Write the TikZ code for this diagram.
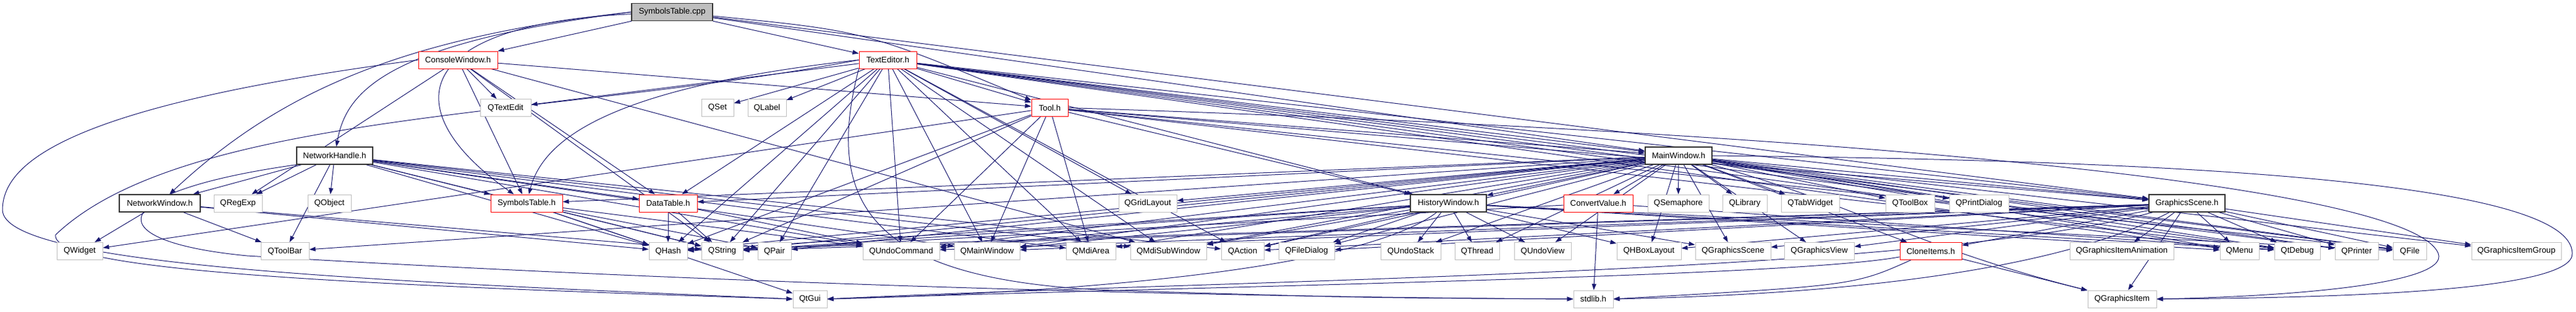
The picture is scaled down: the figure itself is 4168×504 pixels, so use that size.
\documentclass[tikz,border=0pt]{standalone}
\usepackage{fontspec}
\setmainfont{Liberation Sans}
\usetikzlibrary{arrows.meta}
\pgfdeclarelayer{bg}
\pgfsetlayers{bg,main}
\definecolor{edgeblue}{HTML}{191970}
\definecolor{qgray}{HTML}{BFBFBF}
\newcommand{\mknode}[6]{\node[#1,minimum width=#2pt] (#3) at (#4,#5) {#6};}
\begin{document}
\begin{tikzpicture}[x=1pt,y=-1pt,
 box/.style={draw, fill=white, minimum height=28pt, inner sep=0pt, font=\fontsize{13.3}{16}\selectfont, line width=1pt},
 qbox/.style={box, draw=qgray},
 rbox/.style={box, draw=red},
 bbox/.style={box, draw=black!80, line width=1.3pt},
 rootbox/.style={box, draw=black!80, fill=qgray, line width=1.3pt},
 e/.style={draw=edgeblue, line width=1pt, -{Triangle[length=10pt,width=7pt]}}]
\useasboundingbox (0,0) rectangle (4168,504);
% row 0
\mknode{rootbox}{131}{S}{1087.5}{19.5}{SymbolsTable.cpp}
% row 1
\mknode{rbox}{128}{CW}{741}{97}{ConsoleWindow.h}
\mknode{rbox}{93}{TE}{1436.5}{97}{TextEditor.h}
% row 2
\mknode{qbox}{82}{QTextEdit}{818}{174.5}{QTextEdit}
\mknode{qbox}{52}{QSet}{1161}{174.5}{QSet}
\mknode{qbox}{62}{QLabel}{1241}{174.5}{QLabel}
\mknode{rbox}{59}{Tool}{1698.5}{174.5}{Tool.h}
% row 3
\mknode{bbox}{123}{NH}{541.5}{252}{NetworkHandle.h}
\mknode{bbox}{108}{MW}{2716}{252}{MainWindow.h}
% row 4
\mknode{bbox}{131}{NW}{258.5}{329}{NetworkWindow.h}
\mknode{qbox}{78}{QRegExp}{385}{329}{QRegExp}
\mknode{qbox}{70}{QObject}{533}{329}{QObject}
\mknode{rbox}{116}{STh}{852}{329}{SymbolsTable.h}
\mknode{rbox}{94}{DT}{1081}{329}{DataTable.h}
\mknode{qbox}{94}{QGridLayout}{1857}{329}{QGridLayout}
\mknode{bbox}{123}{HW}{2343.5}{329}{HistoryWindow.h}
\mknode{rbox}{112}{CV}{2586}{329}{ConvertValue.h}
\mknode{qbox}{99}{QSemaphore}{2715.5}{329}{QSemaphore}
\mknode{qbox}{72}{QLibrary}{2823}{329}{QLibrary}
\mknode{qbox}{94}{QTabWidget}{2929}{329}{QTabWidget}
\mknode{qbox}{79}{QToolBox}{3090.5}{329}{QToolBox}
\mknode{qbox}{96}{QPrintDialog}{3202}{329}{QPrintDialog}
\mknode{bbox}{123}{GS}{3538.5}{329}{GraphicsScene.h}
% row 5
\mknode{qbox}{74}{QWidget}{129}{406.5}{QWidget}
\mknode{qbox}{78}{QToolBar}{461}{406.5}{QToolBar}
\mknode{qbox}{62}{QHash}{1081}{406.5}{QHash}
\mknode{qbox}{67}{QString}{1168.5}{406.5}{QString}
\mknode{qbox}{54}{QPair}{1253}{406.5}{QPair}
\mknode{qbox}{124}{QUndoCommand}{1458}{406.5}{QUndoCommand}
\mknode{qbox}{106}{QMainWindow}{1597}{406.5}{QMainWindow}
\mknode{qbox}{80}{QMdiArea}{1765}{406.5}{QMdiArea}
\mknode{qbox}{123}{QMdiSubWindow}{1890.5}{406.5}{QMdiSubWindow}
\mknode{qbox}{69}{QAction}{2010.5}{406.5}{QAction}
\mknode{qbox}{90}{QFileDialog}{2114}{406.5}{QFileDialog}
\mknode{qbox}{97}{QUndoStack}{2282.5}{406.5}{QUndoStack}
\mknode{qbox}{72}{QThread}{2390}{406.5}{QThread}
\mknode{qbox}{92}{QUndoView}{2496}{406.5}{QUndoView}
\mknode{qbox}{104}{QHBoxLayout}{2668}{406.5}{QHBoxLayout}
\mknode{qbox}{122}{QGraphicsScene}{2804}{406.5}{QGraphicsScene}
\mknode{qbox}{113}{QGraphicsView}{2943.5}{406.5}{QGraphicsView}
\mknode{rbox}{100}{CloneItems}{3124}{406.5}{CloneItems.h}
\mknode{qbox}{168}{QGraphicsItemAnimation}{3433}{406.5}{QGraphicsItemAnimation}
\mknode{qbox}{63}{QMenu}{3623.5}{406.5}{QMenu}
\mknode{qbox}{74}{QtDebug}{3717}{406.5}{QtDebug}
\mknode{qbox}{70}{QPrinter}{3813}{406.5}{QPrinter}
\mknode{qbox}{54}{QFile}{3899}{406.5}{QFile}
\mknode{qbox}{145}{QGraphicsItemGroup}{4071.5}{406.5}{QGraphicsItemGroup}
% row 6
\mknode{qbox}{55}{QtGui}{1310.5}{484}{QtGui}
\mknode{qbox}{64}{stdlib}{2578}{484}{stdlib.h}
\mknode{qbox}{111}{QGraphicsItem}{3433.5}{484}{QGraphicsItem}

\begin{pgfonlayer}{bg}
\fill[white] (0,0) rectangle (4168,504);
\foreach \a/\b in {S/CW, S/TE, S/MW, S/GS,
 CW/QTextEdit, CW/Tool, CW/DT, CW/STh, CW/QRegExp, CW/QString, CW/QMdiSubWindow,
 TE/QTextEdit, TE/QSet, TE/QLabel, TE/Tool, TE/QGridLayout, TE/DT, TE/QHash, TE/QString, TE/QPair,
 TE/QUndoCommand, TE/QMainWindow, TE/QMdiArea, TE/QMdiSubWindow, TE/QAction, TE/HW, TE/MW, TE/GS,
 TE/QtDebug, TE/QFile, TE/QMenu, TE/QPrinter,
 Tool/QWidget, Tool/QHash, Tool/QUndoCommand, Tool/QMdiArea, Tool/MW, Tool/GS, Tool/QtDebug,
 Tool/QFile, Tool/HW, Tool/QMainWindow, Tool/QString,
 NH/NW, NH/QRegExp, NH/QObject, NH/QToolBar, NH/STh, NH/DT, NH/QHash, NH/QString, NH/QUndoCommand,
 NH/QMainWindow, NH/QMdiArea, NH/QMdiSubWindow, NH/QAction,
 NW/QWidget, NW/QToolBar, NW/QHash, NW/QString,
 STh/QHash, STh/QString, STh/QPair, STh/QtGui, STh/QUndoCommand,
 DT/QHash, DT/QString, DT/QUndoCommand,
 MW/HW, MW/CV, MW/QSemaphore, MW/QLibrary, MW/QTabWidget, MW/QToolBox, MW/QPrintDialog, MW/GS,
 MW/DT, MW/STh, MW/QGridLayout, MW/QToolBar, MW/QHash, MW/QString, MW/QPair, MW/QUndoCommand,
 MW/QMainWindow, MW/QMdiArea, MW/QMdiSubWindow, MW/QAction, MW/QFileDialog, MW/QUndoStack,
 MW/QThread, MW/QUndoView, MW/QHBoxLayout, MW/QGraphicsScene, MW/QGraphicsView, MW/CloneItems,
 MW/QMenu, MW/QtDebug, MW/QPrinter, MW/QFile, MW/QGraphicsItemGroup,
 HW/QUndoStack, HW/QThread, HW/QUndoView, HW/QHBoxLayout, HW/QGraphicsScene, HW/QFileDialog,
 HW/QAction, HW/QMdiSubWindow, HW/QMainWindow, HW/QUndoCommand, HW/QHash, HW/QString, HW/QMenu,
 HW/QtDebug, HW/QFile,
 CV/stdlib, CV/QString, CV/QtDebug,
 GS/QGraphicsScene, GS/QGraphicsView, GS/CloneItems, GS/QGraphicsItem, GS/QGraphicsItemAnimation,
 GS/QMenu, GS/QtDebug, GS/QPrinter, GS/QFile, GS/QGraphicsItemGroup, GS/QHBoxLayout, GS/QAction,
 GS/QString, GS/QHash, GS/QUndoCommand, GS/QMainWindow, GS/QFileDialog,
 CloneItems/QGraphicsItem}
 {\draw[e] (\a) -- (\b);}
% curved connectors
\draw[e] (S.west) .. controls (650,60) and (450,150) .. (NW);
\draw[e] (S.west) .. controls (620,70) and (560,150) .. (NH);
\draw[e] (S) .. controls (1400,50) .. (Tool);
\draw[e] (S) .. controls (660,40) and (640,180) .. (STh);
\draw[e] (TE.west) .. controls (1000,140) and (880,220) .. (STh);
\draw[e] (CW.west) .. controls (120,170) and (4,260) .. (4,340) .. controls (6,430) and (600,455) .. (QtGui.west);
\draw[e] (TE.west) .. controls (900,190) and (300,180) .. (90,380) .. controls (80,440) and (600,462) .. (QtGui.west);
\draw[e] (NH.south west) .. controls (170,310) and (150,390) .. (400,414) .. controls (1000,450) and (1800,480) .. (stdlib.west);
\draw[e] (TE.south west) .. controls (1330,340) and (1420,455) .. (1800,470) .. controls (2200,482) .. (stdlib.west);
\draw[e] (Tool.east) .. controls (3000,215) and (3900,300) .. (3945,410) .. controls (3965,460) and (3700,480) .. (QGraphicsItem.east);
\draw[e] (MW.east) .. controls (3600,260) and (4160,300) .. (4162,410) .. controls (4165,470) and (3800,482) .. (QGraphicsItem.east);
\draw[e] (MW) .. controls (3000,330) and (3100,400) .. (QGraphicsItem);
\draw[e] (GS) .. controls (3100,445) and (2000,452) .. (QtGui.east);
\draw[e] (CloneItems) .. controls (2900,448) and (2000,462) .. (QtGui.east);
\draw[e] (HW) .. controls (2200,440) and (1700,475) .. (QtGui.east);
\draw[e] (CloneItems) .. controls (3000,462) .. (stdlib.east);
\draw[e] (GS) .. controls (3300,452) and (2900,478) .. (stdlib.east);
\end{pgfonlayer}
\end{tikzpicture}
\end{document}
